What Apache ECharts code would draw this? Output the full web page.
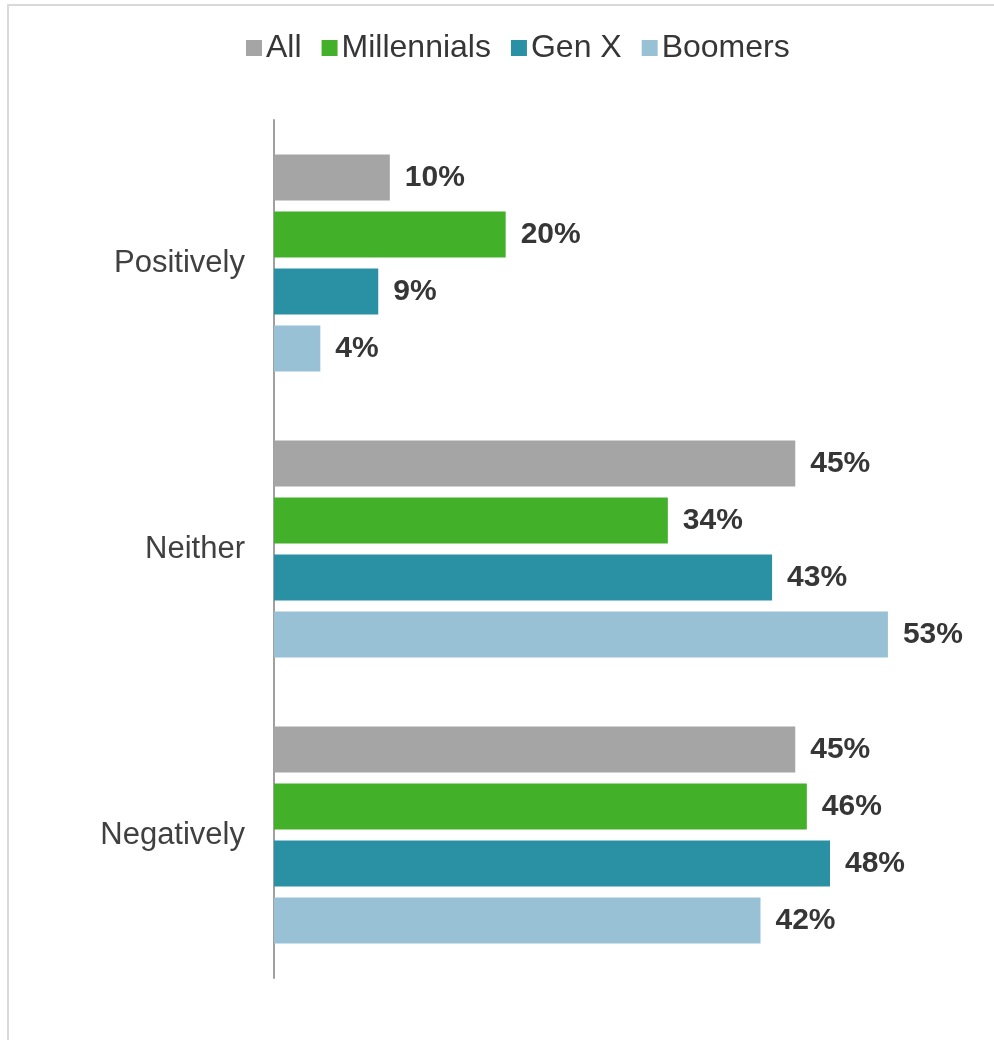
<!DOCTYPE html>
<html>
<head>
<meta charset="utf-8">
<script src="https://cdn.jsdelivr.net/npm/echarts@6/dist/echarts.min.js"></script>
<style>
  html, body { margin: 0; padding: 0; background: #fff; overflow: hidden; }
  #frame { position: absolute; left: 7px; top: 4px; width: 1000px; height: 1100px;
           border: 2px solid #d9d9d9; box-sizing: border-box; }
  #chart { position: absolute; left: 0; top: 0; width: 994px; height: 1040px; }
</style>
</head>
<body>
<div id="frame"></div>
<div id="chart"></div>
<script>
// Response categories, top to bottom
const categories = ['Positively', 'Neither', 'Negatively'];

// Share of respondents (%) by generation
const seriesNames = ['All', 'Millennials', 'Gen X', 'Boomers'];
const allValues = [10, 45, 45];
const millennialValues = [20, 34, 46];
const genXValues = [9, 43, 48];
const boomerValues = [4, 53, 42];

const colors = ['#a5a5a5', '#43b02a', '#2a90a4', '#99c1d5'];
const valueSets = [allValues, millennialValues, genXValues, boomerValues];
const fontFamily = 'Liberation Sans, Arial, sans-serif';

const chart = echarts.init(document.getElementById('chart'));

const series = seriesNames.map((name, i) => ({
  name: name,
  type: 'bar',
  data: valueSets[i],
  barWidth: 46,
  barGap: '24%',
  itemStyle: { color: colors[i] },
  label: {
    show: true,
    position: 'right',
    distance: 15,
    formatter: '{c}%',
    color: '#363636',
    fontSize: 30,
    fontWeight: 'bold',
    fontFamily: fontFamily
  }
}));

chart.setOption({
  animation: false,
  backgroundColor: 'transparent',
  legend: {
    top: 27,
    left: 241,
    itemWidth: 16,
    itemHeight: 16,
    itemGap: 20,
    icon: 'rect',
    textStyle: { color: '#363636', fontSize: 32, fontFamily: fontFamily, padding: [0, 0, 0, -1] },
    data: seriesNames
  },
  grid: { left: 274, top: 120, width: 695, height: 858, containLabel: false },
  xAxis: {
    type: 'value',
    min: 0,
    max: 60,
    show: false
  },
  yAxis: {
    type: 'category',
    data: categories,
    inverse: true,
    axisLine: { show: true, lineStyle: { color: '#a0a0a0', width: 2 } },
    axisTick: { show: false },
    axisLabel: {
      color: '#404040',
      fontSize: 31,
      margin: 29,
      fontFamily: fontFamily
    }
  },
  series: series
});
</script>
</body>
</html>
